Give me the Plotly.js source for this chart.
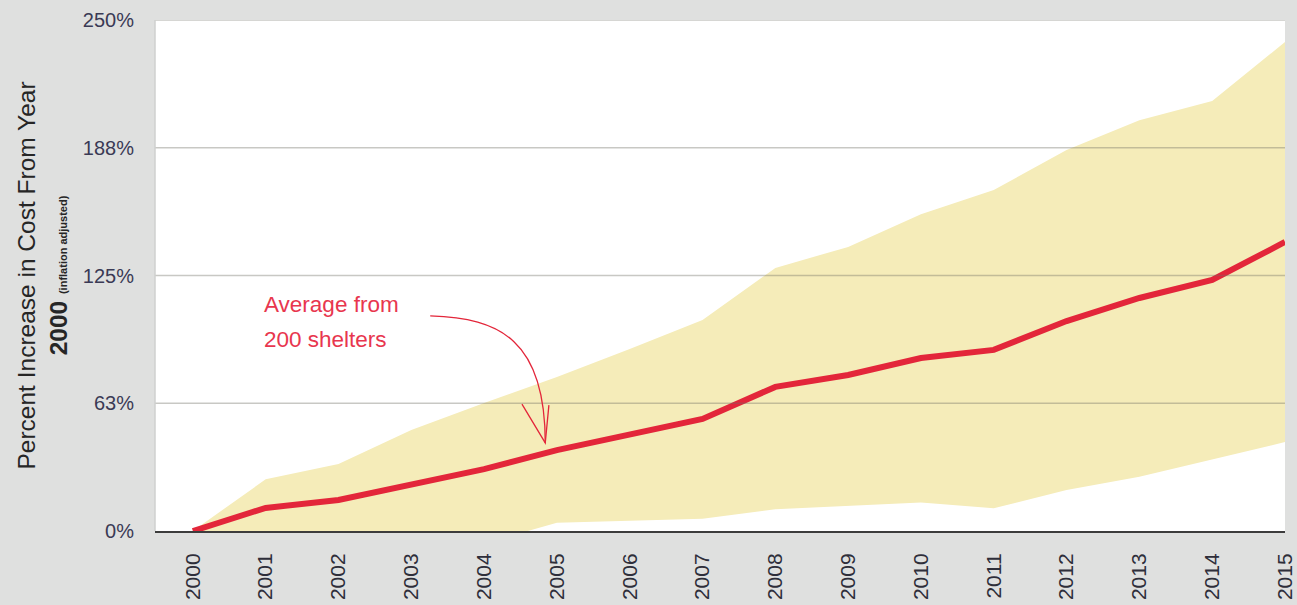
<!DOCTYPE html>
<html>
<head>
<meta charset="utf-8">
<script src="https://cdn.plot.ly/plotly-3.0.1.min.js"></script>
<style>html,body{margin:0;padding:0;background:#dfe0df;}#chart{width:1297px;height:605px;}</style>
</head>
<body>
<div id="chart"></div>
<script>
const years = [2000,2001,2002,2003,2004,2005,2006,2007,2008,2009,2010,2011,2012,2013,2014,2015];
const averageIncrease = [0,11.3,15.2,22.5,30.3,39.6,47,54.8,70.5,76.3,84.6,88.6,102.7,114,122.8,141.4];
const rangeUpper = [0,25.3,32.8,49.4,62.6,75.3,89,103.2,128.7,139,155,166.8,186.4,201,210.4,239.2];
const rangeLower = [0,0,0,0,-6,4,5,6,10.6,12.2,13.9,11.1,20,26.6,35,43.5];
const yTickVals = [0,62.5,125,187.5,250];
const yTickText = ['0%','63%','125%','188%','250%'];
const xTickText = years.map(String);
const noteLines = ['Average from','200 shelters'];

const lineRed = '#e3263a';
const noteRed = '#e8364e';
const bandFill = '#f5ecb9';

const traces = [
  {x: years, y: rangeLower, type:'scatter', mode:'lines', line:{width:0, color:bandFill}, hoverinfo:'skip', showlegend:false},
  {x: years, y: rangeUpper, type:'scatter', mode:'lines', fill:'tonexty', fillcolor:bandFill, line:{width:0, color:bandFill}, hoverinfo:'skip', showlegend:false},
  {x: years, y: averageIncrease, type:'scatter', mode:'lines', line:{width:6, color:lineRed}, showlegend:false}
];

const gridShapes = yTickVals.filter(v => v > 0).map(v => ({
  type:'line', xref:'paper', yref:'y', x0:0, x1:1, y0:v, y1:v,
  line:{color:'rgba(110,110,100,0.38)', width:1.5}, layer:'above'
}));

const arrowShapes = [
  {type:'path', xref:'x', yref:'y', layer:'above',
   path:'M 2003.26,105.2 C 2004.22,104.2 2004.84,93.4 2004.84,43.1',
   line:{color:lineRed, width:1.3}},
  {type:'path', xref:'x', yref:'y', layer:'above',
   path:'M 2004.52,62.1 L 2004.84,43.1 L 2004.89,61.6',
   line:{color:lineRed, width:1.3}}
];

const layout = {
  width:1297, height:605,
  paper_bgcolor:'#dfe0df',
  plot_bgcolor:'#ffffff',
  margin:{l:155, r:12, t:20, b:74},
  font:{family:'Liberation Sans, Arial, sans-serif', color:'#333333'},
  xaxis:{
    range:[1999.48, 2015.0],
    tickvals: years, ticktext: xTickText,
    tickangle:-90,
    tickfont:{size:21, color:'#2e2e3a', family:'Liberation Sans, Arial, sans-serif'},
    ticklabelstandoff:12,
    showgrid:false, zeroline:false,
    showline:true, linecolor:'#3c3c3c', linewidth:2,
    ticks:'', ticklen:0
  },
  yaxis:{
    range:[0,250],
    tickvals: yTickVals, ticktext: yTickText,
    tickfont:{size:20, color:'#3a3a55'},
    ticklabelstandoff:20,
    showgrid:false, zeroline:false, showline:false,
    ticks:'', ticklen:0,
    title:{
      text:'Percent Increase in Cost From Year<br><b>2000</b> <b><span style="font-size:11px">(inflation adjusted)</span></b>',
      font:{size:24.5, color:'#262626'},
      standoff:8
    }
  },
  shapes: gridShapes.concat([
    {type:'line', xref:'paper', yref:'paper', x0:0, x1:0, y0:0, y1:1, line:{color:'#cfd0cf', width:1.5}, layer:'above'}
  ]).concat(arrowShapes),
  annotations: noteLines.map((t, i) => ({
    xref:'x', yref:'y', x:2000.95, y: i === 0 ? 110.6 : 93.9, text:t, showarrow:false,
    xanchor:'left', yanchor:'middle', align:'left',
    font:{size:22.5, color:noteRed, family:'Liberation Sans, Arial, sans-serif'}
  }))
};

Plotly.newPlot('chart', traces, layout, {displayModeBar:false, staticPlot:true});
</script>
</body>
</html>
